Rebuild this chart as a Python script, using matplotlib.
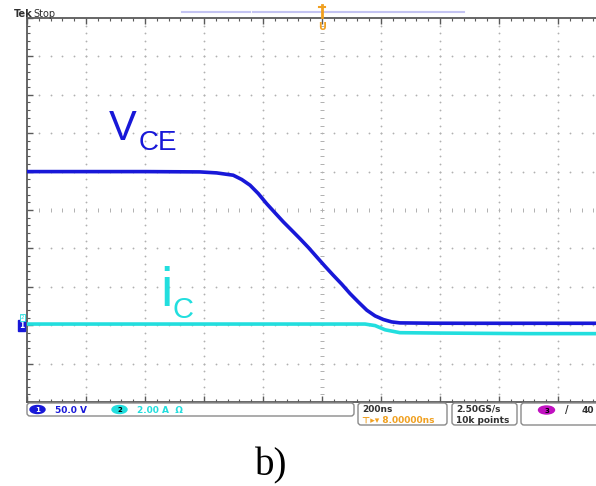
import numpy as np
import matplotlib
matplotlib.use('Agg')
import matplotlib.pyplot as plt
from matplotlib.patches import FancyBboxPatch, Ellipse
import matplotlib.transforms as mtransforms

# scope settings
ns_per_div = 200
ch1_volts_per_div = 50.0
ch2_amps_per_div = 2.0
ch1_pos = -3.0    # divisions
ch2_pos = -2.97   # divisions

# V_CE trace (ns, V)
t_vce = [-1000, -800, -600, -414, -357, -301, -272, -244, -216, -188, -159, -131, -103, -75, -46,
         -18, 10, 38, 67, 95, 123, 152, 180, 208, 236, 264, 376, 500, 700, 1000]
v_vce = [200, 200, 200, 199.6, 198.3, 195.3, 189.7, 182.3, 171.4, 158.4, 146.2, 134.5, 123.7, 112.8, 101.1,
         88.9, 76.8, 65.1, 53.4, 41.2, 30.3, 19.5, 12.1, 7.4, 4.3, 3.0, 2.6, 2.5, 2.5, 2.5]

# i_C trace (ns, A)
t_ic = [-1000, -500, 0, 146, 180, 214, 264, 400, 700, 1000]
i_c = [0, 0, 0, 0, -0.08, -0.3, -0.45, -0.47, -0.5, -0.5]

blue = '#1818d8'
cyan = '#22dede'
frame = '#5a5a5a'
dot = '#b0b0b0'
orange = '#f0a020'

fig = plt.figure(figsize=(5.96, 4.86), dpi=100)

# scope screen: 10 x 10 divisions, left edge at x=27px, top at y=18px
ax = fig.add_axes([27/596, (486-402)/486, 590/596, 384/486])
ax.set_xlim(-1000, 1000)
ax.set_ylim(-5, 5)
ax.set_facecolor('white')
for s in ['left', 'top', 'bottom']:
    ax.spines[s].set_color(frame)
    ax.spines[s].set_linewidth(1.3)
ax.spines['right'].set_visible(False)
ax.set_xticks(np.arange(-1000, 1001, 200))
ax.set_xticks(np.arange(-1000, 1001, 40), minor=True)
ax.set_yticks(np.arange(-5, 6, 1))
ax.set_yticks(np.arange(-5, 5.01, 0.2), minor=True)
ax.tick_params(which='both', direction='in', top=True, bottom=True, left=True, right=False,
               labelbottom=False, labelleft=False, color=frame)
ax.tick_params(which='major', length=4, width=1)
ax.tick_params(which='minor', length=2.5, width=0.8)

# dotted graticule
for xv in np.arange(-800, 1000, 200):
    yy = np.arange(-4.8, 5, 0.2)
    if xv == 0:
        ax.plot(np.full(len(yy), xv), yy, ls='none', marker='_', ms=3, mew=0.7, color=dot, zorder=1)
    else:
        ax.plot(np.full(len(yy), xv), yy, ls='none', marker='o', ms=1.3, mew=0, color=dot, zorder=1)
for yv in np.arange(-4, 5, 1):
    xx = np.arange(-960, 1000, 40)
    if yv == 0:
        ax.plot(xx, np.full(len(xx), yv), ls='none', marker='|', ms=3, mew=0.7, color=dot, zorder=1)
    else:
        ax.plot(xx, np.full(len(xx), yv), ls='none', marker='o', ms=1.3, mew=0, color=dot, zorder=1)

# traces
ax.plot(t_ic, np.array(i_c) / ch2_amps_per_div + ch2_pos, color=cyan, lw=2.6, zorder=3,
        solid_joinstyle='round')
ax.plot(t_vce, np.array(v_vce) / ch1_volts_per_div + ch1_pos, color=blue, lw=2.6, zorder=4,
        solid_joinstyle='round')

# ground markers
trans = mtransforms.blended_transform_factory(ax.transAxes, ax.transData)
ax.text(-0.005, ch1_pos, '1', transform=trans, ha='right', va='center', fontsize=5.5,
        fontweight='bold', color='white', clip_on=False,
        bbox=dict(boxstyle='square,pad=0.15', fc=blue, ec=blue))
ax.text(-0.005, ch2_pos + 0.17, '2', transform=trans, ha='right', va='center', fontsize=4,
        color=cyan, clip_on=False,
        bbox=dict(boxstyle='square,pad=0.1', fc='white', ec=cyan, lw=0.6))

# overlay in pixel coordinates for labels and status bar
ax0 = fig.add_axes([0, 0, 1, 1], facecolor='none')
ax0.set_xlim(0, 596)
ax0.set_ylim(486, 0)
ax0.axis('off')

ax0.text(14, 17, 'Tek', fontsize=7, fontweight='bold', color='#303030', va='baseline')
ax0.text(33, 17, 'Stop', fontsize=7, color='#303030', va='baseline')

# record view bar and trigger marker
ax0.plot([182, 250], [12, 12], color='#c4c4f2', lw=1.5)
ax0.plot([253, 464], [12, 12], color='#c4c4f2', lw=1.5)
ax0.plot([322, 322], [5, 17], color=orange, lw=2)
ax0.plot([319, 325], [7, 7], color=orange, lw=1.5)
ax0.text(322, 30, 'U', color=orange, fontsize=7, fontweight='bold', ha='center', va='baseline')

# trace labels
sans = 'Liberation Sans'
ax0.text(109, 140, 'V', fontsize=30, color=blue, family=sans, va='baseline')
ax0.text(139, 150, 'CE', fontsize=20, color=blue, family=sans, va='baseline')
ax0.text(160, 306, 'i', fontsize=40, color=cyan, family=sans, va='baseline')
ax0.text(172, 318, 'C', fontsize=21, color=cyan, family=sans, va='baseline')

# status bar
def box(x0, x1, y0, y1):
    ax0.add_patch(FancyBboxPatch((x0, y0), x1 - x0, y1 - y0,
                                 boxstyle='round,pad=0,rounding_size=3',
                                 fc='white', ec='#8a8a8a', lw=1))

box(27, 354, 403, 416)
box(358, 447, 403, 425)
box(452, 517, 403, 425)
box(521, 600, 403, 425)

ax0.add_patch(Ellipse((37.5, 409.5), 15, 8, color=blue))
ax0.text(37.5, 410, '1', fontsize=5, color='white', ha='center', va='center', fontweight='bold')
ax0.text(55, 410, '50.0 V', fontsize=6.5, color=blue, va='center', fontweight='bold')
ax0.add_patch(Ellipse((119.5, 409.5), 15, 8, color=cyan))
ax0.text(119.5, 410, '2', fontsize=5, color='black', ha='center', va='center', fontweight='bold')
ax0.text(137, 410, '2.00 A  \u03a9', fontsize=6.5, color=cyan, va='center', fontweight='bold')

ax0.text(362, 409, '200ns', fontsize=6.5, color='#303030', va='center', fontweight='bold')
ax0.text(362, 420, '\u22a4\u25b8\u25be 8.00000ns', fontsize=6.5, color=orange, va='center', fontweight='bold')
ax0.text(456, 409, '2.50GS/s', fontsize=6.5, color='#303030', va='center', fontweight='bold')
ax0.text(456, 420, '10k points', fontsize=6.5, color='#303030', va='center', fontweight='bold')
ax0.add_patch(Ellipse((546.5, 410), 16, 8, color='#c010c0'))
ax0.text(546.5, 410.5, '3', fontsize=5, color='black', ha='center', va='center', fontweight='bold')
ax0.text(565, 410, '/', fontsize=7, color='#303030', va='center', fontweight='bold')
ax0.text(582, 410, '40', fontsize=6.5, color='#303030', va='center', fontweight='bold')

ax0.text(255, 475, 'b)', fontsize=28, family='Liberation Serif', color='black', va='baseline')

fig.savefig('out.png', dpi=100)
